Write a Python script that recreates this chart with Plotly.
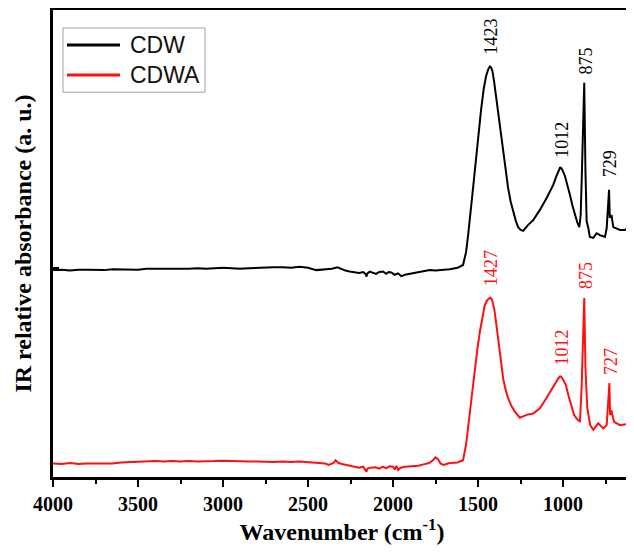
import plotly.graph_objects as go

# ---------------- data ----------------
cdw_wn = [4000, 3950, 3900, 3850, 3800, 3750, 3700, 3650, 3600, 3550, 3500, 3450, 3400, 3350,
          3300, 3250, 3200, 3150, 3100, 3050, 3000, 2950, 2900, 2850, 2800, 2750, 2700, 2650,
          2600, 2549, 2500, 2451, 2400, 2360, 2326, 2300, 2280, 2255, 2230, 2200, 2175, 2160,
          2157, 2150, 2137, 2120, 2100, 2080, 2059, 2040, 2025, 2010, 1990, 1970, 1951, 1930,
          1900, 1862, 1820, 1784, 1750, 1720, 1690, 1666, 1620, 1588, 1570, 1558, 1529, 1500,
          1482, 1466, 1452, 1440, 1430, 1423, 1415, 1405, 1394, 1382, 1367, 1352, 1337, 1323,
          1308, 1293, 1278, 1264, 1249, 1234, 1220, 1205, 1175, 1136, 1097,
          1058, 1040, 1028, 1018, 1012, 1003, 989, 974, 959, 945, 930, 916, 904, 896, 890, 875,
          868, 861, 851, 842, 822, 802, 783, 753, 743, 729, 725, 715, 704, 665, 635, 616, 600]
cdw_abs = [44.3, 44.4, 44.2, 44.4, 44.4, 44.3, 44.3, 44.5, 44.5, 44.4, 44.4, 44.6, 44.6, 44.5,
           44.5, 44.6, 44.6, 44.7, 44.6, 44.7, 44.8, 44.7, 44.6, 44.7, 44.8, 44.8, 44.9, 44.9,
           44.8, 45.0, 44.8, 44.3, 44.5, 44.6, 44.9, 44.5, 44.2, 44.0, 43.9, 43.7, 43.9, 43.4,
           42.9, 43.6, 44.0, 43.8, 43.5, 43.9, 44.0, 43.5, 43.9, 43.8, 43.3, 43.6, 43.0, 43.3,
           43.5, 43.7, 44.0, 44.3, 44.2, 44.3, 44.4, 44.5, 44.8, 45.4, 48.2, 51.8, 61.9, 72.6,
           78.6, 83.2, 85.9, 87.3, 87.9, 87.7, 86.9, 84.6, 81.5, 78.2, 73.3, 68.9, 64.9, 61.9,
           59.0, 56.7, 54.9, 53.5, 52.9, 52.7, 53.4, 54.0, 55.0, 57.2, 59.7,
           62.5, 64.3, 65.5, 66.2, 66.2, 65.7, 64.5, 62.6, 60.4, 58.2, 56.1, 54.5, 53.5, 56.1,
           63.6, 84.4, 65.7, 54.8, 53.3, 51.4, 51.2, 52.2, 51.8, 51.4, 53.3, 61.5, 55.5, 56.1,
           53.5, 52.9, 52.9, 53.5, 54.4]

cdwa_wn = [4000, 3950, 3900, 3850, 3800, 3750, 3700, 3650, 3600, 3550, 3500, 3450, 3400, 3350,
           3300, 3250, 3200, 3150, 3100, 3050, 3000, 2950, 2900, 2850, 2800, 2750, 2700, 2650,
           2600, 2550, 2500, 2450, 2400, 2379, 2350, 2338, 2320, 2300, 2251, 2220, 2200, 2175,
           2160, 2157, 2150, 2130, 2103, 2080, 2060, 2040, 2020, 2000, 1990, 1980, 1970, 1955,
           1930, 1900, 1851, 1820, 1788, 1765, 1750, 1735, 1720, 1704, 1666, 1620, 1588, 1570,
           1548, 1519, 1503, 1489, 1474, 1460, 1445, 1435, 1427, 1418, 1405, 1394, 1382, 1367,
           1352, 1337, 1323, 1303, 1283, 1254, 1214, 1175, 1136,
           1097, 1058, 1040, 1028, 1018, 1012, 1003, 983, 966, 949, 935, 920, 900, 890, 875,
           868, 857, 840, 822, 793, 763, 743, 727, 723, 716, 700, 665, 626, 600]
cdwa_abs = [2.9, 2.8, 3.0, 2.8, 2.9, 2.9, 3.0, 2.9, 3.1, 3.2, 3.3, 3.3, 3.4, 3.3,
            3.4, 3.3, 3.4, 3.3, 3.3, 3.4, 3.5, 3.4, 3.3, 3.3, 3.3, 3.2, 3.2, 3.3,
            3.2, 3.3, 3.2, 3.0, 2.9, 2.6, 3.0, 3.6, 3.0, 2.8, 2.4, 2.3, 2.0, 2.2,
            1.4, 1.1, 1.8, 2.0, 2.1, 1.8, 2.2, 1.9, 2.3, 2.2, 1.6, 2.4, 1.5, 2.0,
            2.2, 2.3, 2.4, 2.7, 3.0, 3.6, 4.2, 3.8, 2.9, 2.6, 3.0, 3.1, 3.6, 7.0,
            14.0, 23.3, 27.6, 31.1, 34.3, 36.8, 37.9, 38.3, 38.4, 38.0, 36.1, 33.2, 29.7, 25.0,
            21.1, 18.6, 16.9, 15.2, 14.0, 12.7, 13.3, 13.6, 14.7,
            16.9, 19.4, 20.5, 21.1, 21.5, 21.5, 21.1, 19.7, 17.2, 14.7, 13.3, 12.5, 11.8, 19.7,
            38.3, 23.3, 14.8, 11.1, 10.1, 11.5, 10.4, 11.1, 20.1, 13.3, 14.3, 11.8, 11.1, 11.3,
            11.8]

series_names = ["CDW", "CDWA"]
cdw_peaks = [1423, 1012, 875, 729]
cdwa_peaks = [1427, 1012, 875, 727]
x_ticks = [4000, 3500, 3000, 2500, 2000, 1500, 1000]
x_tick_labels = ["4000", "3500", "3000", "2500", "2000", "1500", "1000"]

BLACK = "#000000"
RED = "#ff1010"
SERIF = "Liberation Serif, Times New Roman, serif"
SANS = "Liberation Sans, Arial, sans-serif"
colors = [BLACK, RED]

fig = go.Figure()
fig.add_trace(go.Scatter(x=cdw_wn, y=cdw_abs, mode="lines", name=series_names[0],
                         line=dict(color=BLACK, width=2)))
fig.add_trace(go.Scatter(x=cdwa_wn, y=cdwa_abs, mode="lines", name=series_names[1],
                         line=dict(color=RED, width=2)))

def peak_value(wns, vals, p):
    return vals[wns.index(p)]

black_gap = [11, 8, 6, 10]
black_dx = [0, 1, 2, 1]
red_gap = [10, 9, 7, 6]
red_dx = [0, 1, 1, 1]
for p, g, dx in zip(cdw_peaks, black_gap, black_dx):
    fig.add_annotation(x=p, y=peak_value(cdw_wn, cdw_abs, p), text=str(p), showarrow=False,
                       textangle=-90, xanchor="center", yanchor="bottom", yshift=g, xshift=dx,
                       font=dict(family=SERIF, size=18, color=BLACK))
for p, g, dx in zip(cdwa_peaks, red_gap, red_dx):
    fig.add_annotation(x=p, y=peak_value(cdwa_wn, cdwa_abs, p), text=str(p), showarrow=False,
                       textangle=-90, xanchor="center", yanchor="bottom", yshift=g, xshift=dx,
                       font=dict(family=SERIF, size=18, color=RED))

# legend box drawn in paper coordinates (tighter rows than plotly's built-in legend)
fig.add_shape(type="rect", xref="paper", yref="paper", x0=0.0173, x1=0.263, y0=0.824, y1=0.9615,
              line=dict(color="#a0a0a0", width=1), fillcolor="white", layer="above")
legend_rows_y = [0.925, 0.861]
for name, col, yy in zip(series_names, colors, legend_rows_y):
    fig.add_shape(type="line", xref="paper", yref="paper", x0=0.0242, x1=0.1159, y0=yy, y1=yy,
                  line=dict(color=col, width=3), layer="above")
    fig.add_annotation(xref="paper", yref="paper", x=0.1298, y=yy, text=name, showarrow=False,
                       xanchor="left", yanchor="middle",
                       font=dict(family=SANS, size=23, color="#111111"))

fig.update_layout(
    width=626, height=542,
    margin=dict(l=45, r=3, t=2, b=73),
    paper_bgcolor="white", plot_bgcolor="white",
    showlegend=False,
    xaxis=dict(range=[4000, 600], tickmode="array", tickvals=x_ticks, ticktext=x_tick_labels,
               ticks="outside", ticklen=7, tickwidth=2, tickcolor=BLACK,
               minor=dict(dtick=250, ticks="outside", ticklen=4, tickwidth=2, tickcolor=BLACK),
               showgrid=False, zeroline=False, automargin=False,
               showline=True, linecolor=BLACK, linewidth=2.5, mirror=True,
               tickfont=dict(family=SERIF, size=20, color=BLACK, weight="bold"),
               title=dict(text="<b>Wavenumber (cm<sup>-1</sup>)</b>",
                          font=dict(family=SERIF, size=24, color=BLACK), standoff=6)),
    yaxis=dict(range=[0, 100], tickmode="array", tickvals=[44.8], showticklabels=False,
               ticks="inside", ticklen=6, tickwidth=1.5, tickcolor=BLACK,
               showgrid=False, zeroline=False, automargin=False,
               showline=True, linecolor=BLACK, linewidth=2.5, mirror=True,
               title=dict(text="<b>IR relative absorbance (a. u.)</b>",
                          font=dict(family=SERIF, size=24, color=BLACK), standoff=12)),
)

fig.write_html("out.html")
